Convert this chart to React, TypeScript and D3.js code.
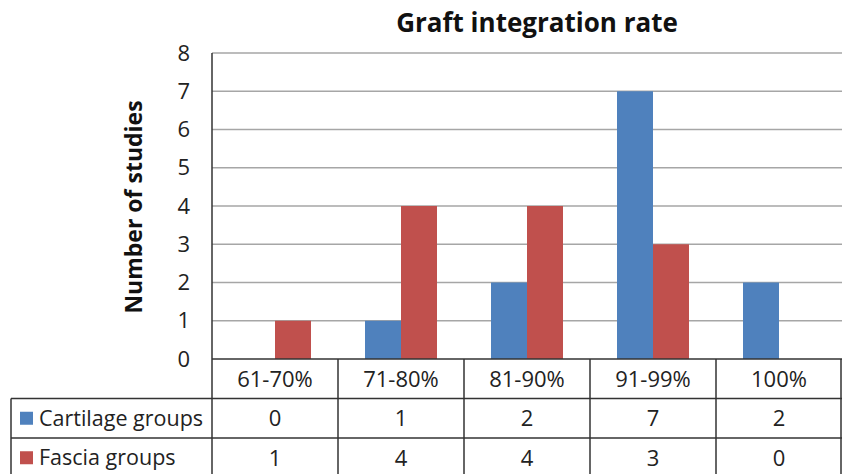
import * as d3 from "d3";

const categories = ["61-70%", "71-80%", "81-90%", "91-99%", "100%"];
const cartilage = [0, 1, 2, 7, 2];
const fascia = [1, 4, 4, 3, 0];
const seriesNames = ["Cartilage groups", "Fascia groups"];
const colors = ["#4F81BD", "#C0504D"];
const yTicks = [0, 1, 2, 3, 4, 5, 6, 7, 8];

const W = 843;
const H = 474;
const plot = { left: 212, right: 842, top: 53, bottom: 359 };
const rowH = 39.5;
const tableLeft = 11;
const font = "'Open Sans', Lato, sans-serif";

const App = () => {
  const x = d3
    .scaleBand()
    .domain(categories)
    .range([plot.left, plot.right])
    .paddingInner(0)
    .paddingOuter(0);
  const inner = d3
    .scaleBand()
    .domain(seriesNames)
    .range([0, x.bandwidth()])
    .paddingOuter(0.75)
    .paddingInner(0);
  const y = d3.scaleLinear().domain([0, 8]).range([plot.bottom, plot.top]);

  const series = [cartilage, fascia];
  const rowsTop = plot.bottom + rowH;

  return (
    <svg
      width={W}
      height={H}
      style={{ position: "absolute", left: 0, top: 0, background: "#fff" }}
      fontFamily={font}
    >
      <text
        x={537}
        y={32}
        textAnchor="middle"
        fontSize={26}
        fontWeight="bold"
        fill="#111"
      >
        Graft integration rate
      </text>

      {/* grid */}
      {yTicks.slice(1).map((t) => (
        <line
          key={t}
          x1={plot.left}
          x2={plot.right}
          y1={y(t)}
          y2={y(t)}
          stroke="#a6a6a6"
          strokeWidth={1.5}
        />
      ))}
      {yTicks.map((t) => (
        <text
          key={t}
          x={190}
          y={y(t)}
          dy="0.35em"
          textAnchor="end"
          fontSize={22}
          fill="#222"
        >
          {t}
        </text>
      ))}
      <text
        transform={`translate(142,207) rotate(-90)`}
        textAnchor="middle"
        fontSize={23}
        fontWeight="bold"
        fill="#111"
      >
        Number of studies
      </text>

      {/* bars */}
      {series.map((vals, si) =>
        vals.map((v, i) => (
          <rect
            key={`${si}-${i}`}
            x={(x(categories[i]) as number) + (inner(seriesNames[si]) as number)}
            y={y(v)}
            width={inner.bandwidth()}
            height={plot.bottom - y(v)}
            fill={colors[si]}
          />
        ))
      )}

      {/* axis line */}
      <line
        x1={plot.left}
        x2={plot.left}
        y1={plot.top}
        y2={plot.bottom}
        stroke="#333"
        strokeWidth={1.5}
      />

      {/* data table */}
      <line x1={plot.left} x2={plot.right} y1={plot.bottom} y2={plot.bottom} stroke="#333" strokeWidth={1.5} />
      {[0, 1].map((r) => (
        <line
          key={r}
          x1={tableLeft}
          x2={plot.right}
          y1={rowsTop + r * rowH}
          y2={rowsTop + r * rowH}
          stroke="#333"
          strokeWidth={1.5}
        />
      ))}
      <line x1={tableLeft} x2={tableLeft} y1={rowsTop} y2={H} stroke="#333" strokeWidth={1.5} />
      {categories.map((c) => (
        <line
          key={c}
          x1={x(c)}
          x2={x(c)}
          y1={plot.bottom}
          y2={H}
          stroke="#333"
          strokeWidth={1.5}
        />
      ))}
      <line x1={plot.right - 1} x2={plot.right - 1} y1={plot.bottom} y2={H} stroke="#333" strokeWidth={1.5} />
      {categories.map((c) => (
        <text
          key={c}
          x={(x(c) as number) + x.bandwidth() / 2}
          y={plot.bottom + rowH / 2}
          dy="0.36em"
          textAnchor="middle"
          fontSize={22}
          fill="#222"
        >
          {c}
        </text>
      ))}
      {series.map((vals, si) => (
        <g key={si}>
          <rect
            x={20}
            y={rowsTop + si * rowH + rowH / 2 - 6.5}
            width={13}
            height={13}
            fill={colors[si]}
          />
          <text
            x={39}
            y={rowsTop + si * rowH + rowH / 2}
            dy="0.36em"
            fontSize={21.5}
            fill="#222"
          >
            {seriesNames[si]}
          </text>
          {vals.map((v, i) => (
            <text
              key={i}
              x={(x(categories[i]) as number) + x.bandwidth() / 2}
              y={rowsTop + si * rowH + rowH / 2}
              dy="0.36em"
              textAnchor="middle"
              fontSize={22}
              fill="#222"
            >
              {v}
            </text>
          ))}
        </g>
      ))}
    </svg>
  );
};

export default App;
